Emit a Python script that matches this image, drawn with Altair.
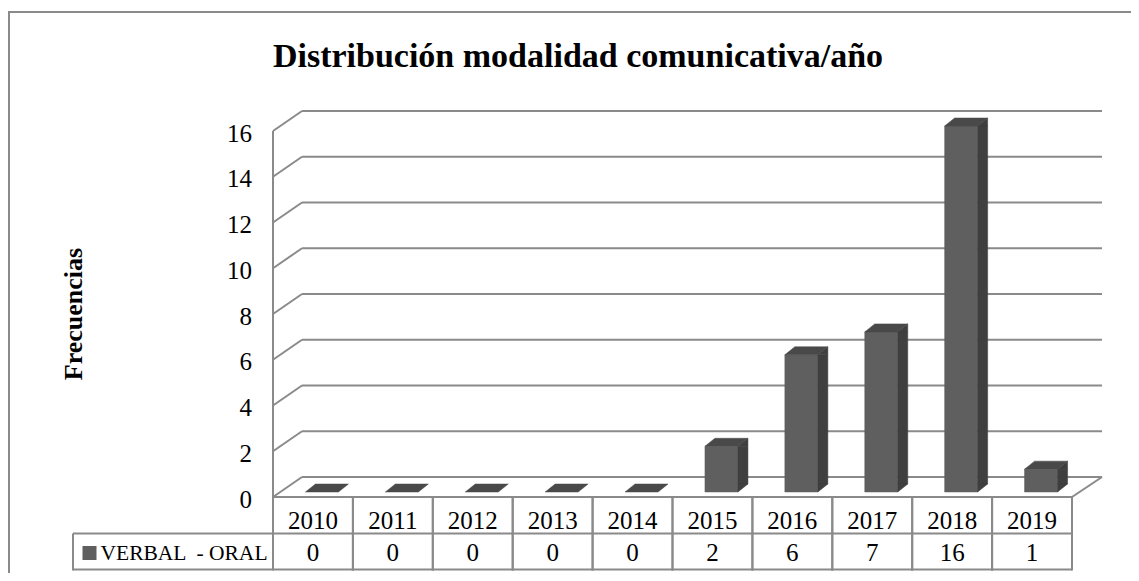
import altair as alt
import pandas as pd

# ---------------- data ----------------
years = ["2010", "2011", "2012", "2013", "2014", "2015", "2016", "2017", "2018", "2019"]
counts = [0, 0, 0, 0, 0, 2, 6, 7, 16, 1]
ticks = [0, 2, 4, 6, 8, 10, 12, 14, 16]
series_name = "VERBAL \u00a0- ORAL"
chart_title = "Distribución modalidad comunicativa/año"
y_title = "Frecuencias"

# ---------------- styling ----------------
FONT = "Liberation Serif"
GRID = "#8a8a8a"
FRONT = "#5f5f5f"
SIDE = "#3f3f3f"
TOP = "#494949"
TXT = "#000000"

df = pd.DataFrame({"year": years, "value": counts, "zero": [0] * len(years)})
tick_df = pd.DataFrame({"tick": ticks})
ext_df = pd.DataFrame({"lo": [ticks[0]], "hi": [ticks[-1]]})
title_df = pd.DataFrame({"t": [chart_title]})
ytitle_df = pd.DataFrame({"t": [y_title]})
legend_df = pd.DataFrame({"t": [series_name]})

XS = alt.Scale(domain=years, range=[265, 1064], paddingInner=0, paddingOuter=0)
YS = alt.Scale(domain=[ticks[0], ticks[-1]], range=[489, 123])


def xe(**kw):
    return alt.X("year:N", scale=XS, axis=None, **kw)


def ye(field):
    return alt.Y(field, scale=YS, axis=None)


base = alt.Chart(df)
tbase = alt.Chart(tick_df)
ebase = alt.Chart(ext_df)

# outer frame
frame_top = ebase.mark_rule(color=GRID, strokeWidth=2).encode(
    x=alt.value(0), x2=alt.value(1123), y=alt.value(4))
frame_left = ebase.mark_rule(color=GRID, strokeWidth=2).encode(
    x=alt.value(1), y=alt.value(4), y2=alt.value(565))

# back wall gridlines
grid = tbase.mark_rule(color=GRID, strokeWidth=2, yOffset=-20).encode(
    y=ye("tick:Q"), x=alt.value(294), x2=alt.value(1094))
# slanted side-wall connectors
conn = tbase.mark_rule(color=GRID, strokeWidth=2, y2Offset=-20).encode(
    y=ye("tick:Q"), y2=alt.Y2("tick:Q"), x=alt.value(265), x2=alt.value(294))
# front vertical axis
front_axis = ebase.mark_rule(color=GRID, strokeWidth=2).encode(
    x=alt.value(265), y=ye("lo:Q"), y2=alt.Y2("hi:Q"))
# floor right slant
floor_right = ebase.mark_rule(color=GRID, strokeWidth=2, y2Offset=-20).encode(
    x=alt.value(1064), x2=alt.value(1094), y=ye("lo:Q"), y2=alt.Y2("lo:Q"))
# table top (floor front edge)
table_top = ebase.mark_rule(color=GRID, strokeWidth=2).encode(
    x=alt.value(265), x2=alt.value(1064), y=ye("lo:Q"))

# tick labels
tick_labels = tbase.mark_text(align="right", baseline="alphabetic", dy=10.5,
                              fontSize=25, font=FONT, color=TXT).encode(
    y=ye("tick:Q"), x=alt.value(244), text="tick:Q")

# 3D bars
pos = base.transform_filter("datum.value > 0")
bar_front = pos.mark_bar(width=33, xOffset=9, yOffset=-5, y2Offset=-5, color=FRONT,
                         stroke=FRONT, strokeWidth=0.5).encode(
    x=xe(), y=ye("value:Q"), y2=alt.Y2("zero:Q"))
bar_side = pos.mark_bar(width=10, xOffset=30.5, yOffset=-5, y2Offset=-13, color=SIDE,
                        stroke=SIDE, strokeWidth=0.5).encode(
    x=xe(), y=ye("value:Q"), y2=alt.Y2("zero:Q"))
side_top_tri = pos.mark_point(shape="M 25.5 -5 L 35.5 -13 L 35.5 -5 Z", size=4,
                              filled=True, opacity=1, color=SIDE, stroke=SIDE,
                              strokeWidth=0.5).encode(x=xe(), y=ye("value:Q"))
side_bot_tri = pos.mark_point(shape="M 25.5 -13 L 25.5 -5 L 35.5 -13 Z", size=4,
                              filled=True, opacity=1, color=SIDE, stroke=SIDE,
                              strokeWidth=0.5).encode(x=xe(), y=ye("zero:Q"))
bar_top = base.mark_point(shape="M -7.5 -5 L 25.5 -5 L 35.5 -13 L 2.5 -13 Z", size=4,
                          filled=True, opacity=1, color=TOP, stroke=TOP,
                          strokeWidth=0.5).encode(x=xe(), y=ye("value:Q"))

# data table
row_lines = ebase.mark_rule(color=GRID, strokeWidth=2).encode(
    x=alt.value(65), x2=alt.value(1064), y=alt.value(525.5))
bottom_line = ebase.mark_rule(color=GRID, strokeWidth=2).encode(
    x=alt.value(65), x2=alt.value(1064), y=alt.value(561.5))
legend_left = ebase.mark_rule(color=GRID, strokeWidth=2).encode(
    x=alt.value(65), y=alt.value(525.5), y2=alt.value(562.5))
col_lines_l = base.mark_rule(color=GRID, strokeWidth=2).encode(
    x=xe(bandPosition=0), y=alt.value(489), y2=alt.value(562.5))
col_lines_r = base.mark_rule(color=GRID, strokeWidth=2).encode(
    x=xe(bandPosition=1), y=alt.value(489), y2=alt.value(562.5))
year_text = base.mark_text(baseline="alphabetic", fontSize=25, font=FONT, color=TXT).encode(
    x=xe(), y=alt.value(521), text="year:N")
value_text = base.mark_text(baseline="alphabetic", fontSize=25, font=FONT, color=TXT).encode(
    x=xe(), y=alt.value(553), text="value:Q")

legend_sym = alt.Chart(legend_df).mark_square(size=196, color=FRONT, opacity=1).encode(
    x=alt.value(81.5), y=alt.value(545))
legend_txt = alt.Chart(legend_df).mark_text(align="left", baseline="alphabetic", fontSize=21.5,
                                            font=FONT, color=TXT).encode(
    x=alt.value(92.5), y=alt.value(552), text="t:N")

title = alt.Chart(title_df).mark_text(align="center", baseline="alphabetic", fontSize=34,
                                      fontWeight="bold", font=FONT, color=TXT).encode(
    x=alt.value(570), y=alt.value(59), text="t:N")
ytitle = alt.Chart(ytitle_df).mark_text(align="center", baseline="middle", angle=270,
                                        fontSize=26, fontWeight="bold", font=FONT,
                                        color=TXT).encode(
    x=alt.value(66), y=alt.value(306), text="t:N")

chart = alt.layer(
    frame_top, frame_left,
    grid, conn, front_axis, floor_right,
    bar_front, bar_side, side_top_tri, side_bot_tri, bar_top,
    table_top, row_lines, bottom_line, legend_left, col_lines_l, col_lines_r,
    tick_labels, year_text, value_text, legend_sym, legend_txt, title, ytitle,
).properties(
    width=1123, height=565,
    autosize=alt.AutoSizeParams(type="none"),
    padding=0,
).configure_view(stroke=None)

chart.save("out.html", embed_options={"renderer": "svg", "actions": False})
